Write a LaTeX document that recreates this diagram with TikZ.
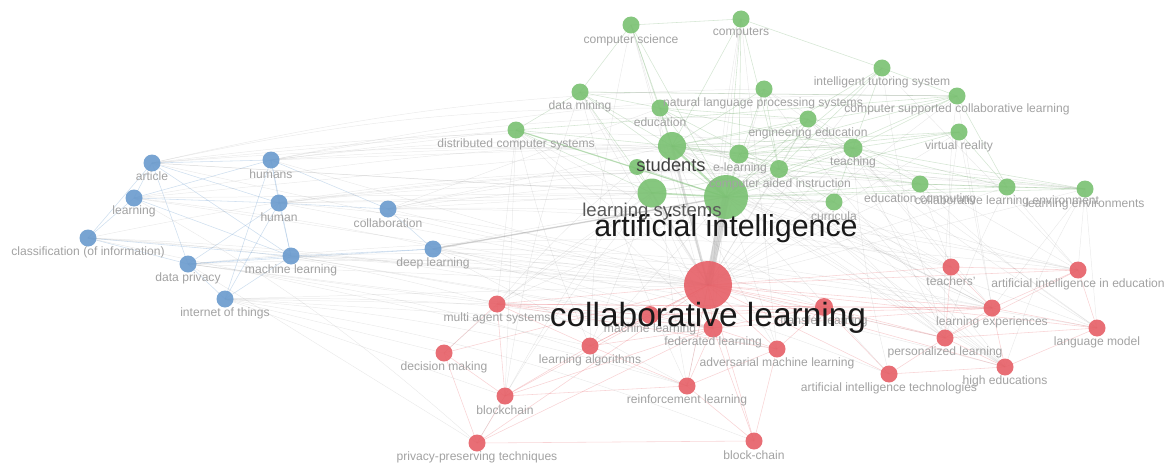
\documentclass[tikz,border=0pt]{standalone}
\usepackage{fontspec}
\setmainfont{Liberation Sans}
\usepackage{xcolor}
\usetikzlibrary{backgrounds}
\definecolor{vgreen}{RGB}{124,194,116}
\definecolor{vblue}{RGB}{108,156,206}
\definecolor{vred}{RGB}{230,98,105}
\definecolor{lblgray}{RGB}{162,162,162}

\begin{document}
\begin{tikzpicture}[x=0.025cm,y=-0.025cm,
          line cap=round,line join=round,
          kw/.style={circle,inner sep=0pt,draw=none,fill opacity=0.92},
          kwg/.style={kw,fill=vgreen},
          kwb/.style={kw,fill=vblue},
          kwr/.style={kw,fill=vred},
          lbl/.style={text=lblgray,inner sep=0pt,font=\fontsize{8.6}{9}\selectfont},
          link/.style={draw=gray,line width=0.35pt,opacity=0.16},
          glink/.style={draw=vgreen!85!black,line width=0.4pt,opacity=0.28},
          blink/.style={draw=vblue,line width=0.4pt,opacity=0.32},
          rlink/.style={draw=vred,line width=0.4pt,opacity=0.28}]
        \useasboundingbox (0,0) rectangle (1168,466);

        % green cluster
        \foreach \n/\x/\y/\d in {cs/631/25/17,cmp/741/19/17,its/882/68/17,dm/580/92/17,
            nlp/764/89/17,edu/660/108/17,cscl/957/96/17,ee/808/119/17,dcs/516/130/17,
            vr/959/132/17,stu/672/146/28,sx/637/167/16,el/739/154/19,cai/779/169/18,
            ls/652/193/29,ai/726/197/44,cur/834/202/17,tch/853/148/19,ec/920/184/17,
            cle/1007/187/17,le/1085/189/17}
          \node[kwg,minimum size=\d*0.025cm] (\n) at (\x,\y) {};
        % blue cluster
        \foreach \n/\x/\y/\d in {art/152/163/17,hms/271/160/17,lrn/134/198/17,hum/279/203/17,
            col/388/209/17,cls/88/238/17,dp/188/264/17,ml/291/256/17,dl/433/249/17,
            iot/225/299/17}
          \node[kwb,minimum size=\d*0.025cm] (\n) at (\x,\y) {};
        % red cluster
        \foreach \n/\x/\y/\d in {cl/708/285/48,tea/951/267/17,aied/1078/270/17,mas/497/304/17,
            rml/650/315/18,trl/824/307/18,lex/992/308/17,fl/713/328/19,lm/1097/328/17,
            pl/945/338/17,dmk/444/353/17,la/590/346/17,aml/777/349/17,he/1005/367/17,
            ait/889/374/17,bc/505/396/17,rl/687/386/17,ppt/477/443/17,bch/754/441/17}
          \node[kwr,minimum size=\d*0.025cm] (\n) at (\x,\y) {};

        \begin{scope}[on background layer]
          % everything hangs on the two hubs
          \foreach \n in {cs,cmp,its,dm,nlp,edu,cscl,ee,dcs,vr,sx,el,cai,cur,tch,ec,cle,le}
            \draw[glink] (\n.center) -- (ai.center);
          \foreach \n in {cs,cmp,its,dm,nlp,edu,cscl,ee,dcs,vr,el,cai,cur,tch,ec,cle,le,
              art,hms,lrn,hum,col,cls,dp,ml,dl,iot}
            \draw[link] (\n.center) -- (cl.center);
          \foreach \n in {tea,aied,mas,rml,trl,lex,fl,lm,pl,dmk,la,aml,he,ait,bc,rl,ppt,bch}
            \draw[rlink] (\n.center) -- (cl.center);
          % blue links
          \foreach \a/\b in {art/hms,art/lrn,art/hum,art/cls,art/dp,art/ml,hms/hum,hms/lrn,
              hms/ml,hms/iot,hms/col,lrn/hum,lrn/cls,lrn/ml,hum/ml,hum/iot,hum/dp,cls/dp,
              cls/ml,dp/ml,dp/iot,ml/dl,ml/iot,col/dl,dp/dl,hum/col}
            \draw[blink] (\a.center) -- (\b.center);
          % green links
          \foreach \a/\b in {cs/edu,cs/stu,cs/dm,cs/cmp,cmp/stu,cmp/cai,cmp/el,cmp/its,
              its/cai,its/cscl,its/tch,its/el,dm/cscl,dm/edu,dm/stu,dm/ls,dm/dcs,nlp/cai,
              nlp/stu,edu/stu,edu/tch,edu/ee,edu/cai,cscl/tch,cscl/el,cscl/stu,cscl/cle,
              ee/tch,ee/stu,ee/cai,dcs/ls,dcs/cscl,dcs/stu,vr/el,vr/tch,vr/stu,vr/cle,
              stu/el,stu/cai,stu/tch,stu/ec,stu/le,sx/ls,el/cai,el/tch,cai/tch,
              cai/ec,cai/cur,ls/cai,cur/tch,tch/ec,tch/le,ec/cle,cle/le,ec/le,tch/cle}
            \draw[glink] (\a.center) -- (\b.center);
          % red links
          \foreach \a/\b in {mas/rml,mas/fl,mas/dmk,mas/bc,mas/la,mas/trl,rml/fl,rml/la,
              rml/trl,fl/aml,fl/la,fl/rl,fl/bch,fl/bc,fl/ppt,fl/trl,aml/rl,aml/bch,aml/trl,
              la/bc,la/rl,dmk/bc,dmk/ppt,bc/ppt,bc/rl,ppt/bch,rl/bch,tea/lex,tea/pl,
              tea/aied,aied/lex,aied/lm,aied/pl,lex/pl,lex/lm,lex/he,pl/he,pl/ait,pl/lm,
              he/lm,ait/he,trl/lex,trl/pl,trl/ait,rml/lex,fl/lex,mas/lex,mas/aml}
            \draw[rlink] (\a.center) -- (\b.center);
          % links across clusters
          \foreach \a/\b in {art/dcs,hms/dcs,hms/stu,lrn/stu,art/ls,hum/ls,col/ls,col/stu,
              dl/fl,ml/fl,dp/fl,iot/fl,iot/mas,dp/mas,ml/rml,cls/la,iot/bc,dl/rl,col/edu,
              hum/ai,art/ai,dl/ai,dp/ppt,iot/dmk,lrn/ls,ai/tea,ai/aied,ai/lex,ai/pl,ai/lm,
              ai/he,ai/ait,ai/la,ai/rl,ai/mas,ai/fl,ai/aml,stu/tea,stu/pl,stu/lex,stu/he,
              ls/la,ls/mas,ls/fl,tch/tea,tch/lex,tch/pl,le/aied,le/lm,le/lex,cle/aied,
              ec/tea,cai/pl,el/pl,edu/he,cur/lex,cur/tea,dcs/mas,dcs/fl,dm/fl,dcs/bc,
              cs/fl,cmp/aml,nlp/lm,nlp/aied,its/aied,vr/lex,ee/he,cscl/lex,dcs/trl,dm/cscl}
            \draw[link] (\a.center) -- (\b.center);
          % long faint curves from the blue group
          \foreach \a/\b in {art/cle,hms/le,lrn/tch,hum/ec,cls/cai,art/nlp,hms/cscl,col/le,
              dl/lex,ml/pl,dp/aied,iot/rl,iot/aml,cls/fl,lrn/fl,hms/el,art/tch,hum/cur,
              col/tea,dl/ait,ml/he,dp/lm,iot/bch,cls/mas,lrn/ppt,hum/trl,col/cai,dl/cur,
              art/edu,hms/ee,hum/le,ml/lex,dp/rl,col/aied}
            \draw[link] (\a.center) to[bend left=6] (\b.center);
          % and between the green and red groups
          \foreach \a/\b in {dm/rl,cs/la,cmp/fl,its/pl,nlp/he,edu/lex,cscl/tea,ee/lm,
              vr/pl,el/lex,cai/aied,cur/he,tch/ait,ec/lm,cle/pl,le/he,stu/bc,ls/dmk,
              sx/mas,dcs/la,dm/bc,edu/rl,stu/aml,ls/ppt}
            \draw[link] (\a.center) to[bend right=5] (\b.center);
          % the heavy ones
          \draw[draw=gray,opacity=0.3,line width=5pt] (ai.center) -- (cl.center);
          \draw[draw=gray,opacity=0.25,line width=1.6pt] (stu.center) -- (cl.center);
          \draw[draw=gray,opacity=0.2,line width=1pt] (ls.center) -- (cl.center);
          \draw[draw=vgreen,opacity=0.5,line width=1.5pt] (stu.center) -- (ai.center);
          \draw[draw=vgreen,opacity=0.45,line width=1.2pt] (ls.center) -- (ai.center);
          \draw[draw=gray,opacity=0.3,line width=1pt] (dl.center) -- (ai.center);
          \draw[draw=vgreen,opacity=0.4,line width=0.9pt] (dcs.center) -- (ai.center);
        \end{scope}

        % small labels
        \foreach \n/\x/\y/\t in {cs/631/40/computer science,cmp/741/33/computers,
            its/882/82/intelligent tutoring system,dm/580/106/data mining,
            nlp/763/103/natural language processing systems,edu/660/122/education,
            cscl/957/109/computer supported collaborative learning,
            ee/808/133/engineering education,dcs/516/144/distributed computer systems,
            vr/959/146/virtual reality,el/740/168/e-learning,
            cai/780/184/computer aided instruction,cur/834/216/curricula,
            tch/853/162/teaching,ec/920/199/education computing,
            cle/1007/201/collaborative learning environment,
            le/1085/204/learning environments,
            art/152/176/article,hms/271/174/humans,lrn/134/211/learning,hum/279/217/human,
            col/388/223/collaboration,cls/88/252/{classification (of information)},
            dp/188/278/data privacy,ml/291/270/machine learning,dl/433/263/deep learning,
            iot/225/313/internet of things,
            tea/951/281/teachers',aied/1078/284/artificial intelligence in education,
            mas/497/318/multi agent systems,rml/650/329/machine learning,
            trl/824/321/transfer learning,lex/992/322/learning experiences,
            fl/713/342/federated learning,lm/1097/342/language model,
            pl/945/352/personalized learning,dmk/444/367/decision making,
            la/590/360/learning algorithms,aml/777/363/adversarial machine learning,
            he/1005/381/high educations,ait/889/388/artificial intelligence technologies,
            bc/505/410/blockchain,rl/687/400/reinforcement learning,
            ppt/477/457/privacy-preserving techniques,bch/754/455/block-chain}
          \node[lbl] (\n-t) at (\x,\y) {\t};

        % hub labels
        \node[text=black!75,inner sep=0pt,font=\fontsize{13}{14}\selectfont] (stu-t) at (671,165) {students};
        \node[text=black!65,inner sep=0pt,font=\fontsize{13.2}{14}\selectfont] (ls-t) at (652,212) {learning systems};
        \node[text=black!90,inner sep=0pt,font=\fontsize{21.6}{23}\selectfont] (ai-t) at (726,229) {artificial intelligence};
        \node[text=black!90,inner sep=0pt,font=\fontsize{23.8}{25}\selectfont] (cl-t) at (708,318) {collaborative learning};
      \end{tikzpicture}
\end{document}
